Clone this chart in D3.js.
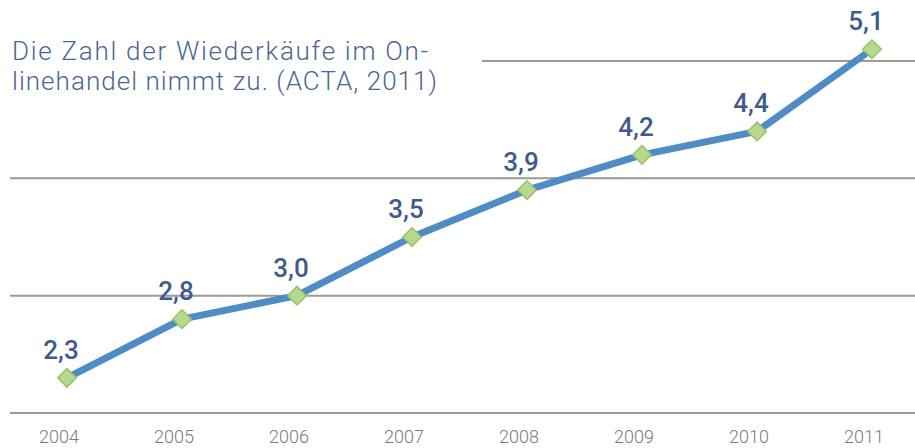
<!DOCTYPE html>
<html><head><meta charset="utf-8">
<script src="https://cdn.jsdelivr.net/npm/d3@7/dist/d3.min.js"></script>
<style>
html,body{margin:0;padding:0;background:#fff;}
svg{display:block;}
</style></head>
<body>
<svg id="chart" width="915" height="448"></svg>
<script>
const years = ["2004","2005","2006","2007","2008","2009","2010","2011"];
const values = [2.3, 2.8, 3.0, 3.5, 3.9, 4.2, 4.4, 5.1];
const valueLabels = ["2,3","2,8","3,0","3,5","3,9","4,2","4,4","5,1"];
const gridValues = [2, 3, 4, 5];
const titleLines = ["Die Zahl der Wiederkäufe im On-", "linehandel nimmt zu. (ACTA, 2011)"];

const svg = d3.select("#chart");
const x = d3.scalePoint().domain(years).range([67, 872]);
const y = d3.scaleLinear().domain([2, 5]).range([413, 61]);

// gridlines
svg.append("g").selectAll("line").data(gridValues).join("line")
  .attr("x1", d => d === 5 ? 482 : 10)
  .attr("x2", 915)
  .attr("y1", d => y(d)).attr("y2", d => y(d))
  .attr("stroke", "#9a9a9a").attr("stroke-width", 2);

// x labels
svg.append("g").selectAll("text").data(years).join("text")
  .attr("x", d => x(d) - 8).attr("y", 443)
  .attr("text-anchor", "middle")
  .attr("font-family", "Roboto, 'Open Sans', sans-serif")
  .attr("font-size", 18).attr("font-weight", 300)
  .attr("fill", "#7a7a7a")
  .text(d => d);

// title (one text element, two lines)
const titleWidths = [416, 425];
const title = svg.append("text")
  .attr("font-family", "Roboto, 'Open Sans', sans-serif")
  .attr("font-size", 26).attr("font-weight", 300)
  .attr("fill", "#4a6796");
title.selectAll("tspan").data(titleLines).join("tspan")
  .attr("x", 12).attr("y", (d, i) => 59.5 + i * 30.5)
  .attr("textLength", (d, i) => titleWidths[i])
  .attr("lengthAdjust", "spacing")
  .text(d => d);

// line
const data = years.map((yr, i) => ({yr, v: values[i], lab: valueLabels[i]}));
svg.append("path").datum(data)
  .attr("fill", "none")
  .attr("stroke", "#4f8cc6")
  .attr("stroke-width", 7)
  .attr("stroke-linejoin", "round")
  .attr("d", d3.line().x(d => x(d.yr)).y(d => y(d.v)));

// markers
svg.append("g").selectAll("path").data(data).join("path")
  .attr("transform", d => `translate(${x(d.yr)},${y(d.v)})`)
  .attr("d", d3.symbol().type(d3.symbolDiamond2).size(220))
  .attr("fill", "#b7d98f")
  .attr("stroke", "#97c266")
  .attr("stroke-width", 1.5);

// value labels
svg.append("g").selectAll("text").data(data).join("text")
  .attr("x", d => x(d.yr) - 6).attr("y", d => y(d.v) - 19)
  .attr("text-anchor", "middle")
  .attr("font-family", "Roboto, 'Open Sans', sans-serif")
  .attr("font-size", 26).attr("font-weight", 500)
  .attr("fill", "#3e5b8c")
  .text(d => d.lab);
</script>
</body></html>
